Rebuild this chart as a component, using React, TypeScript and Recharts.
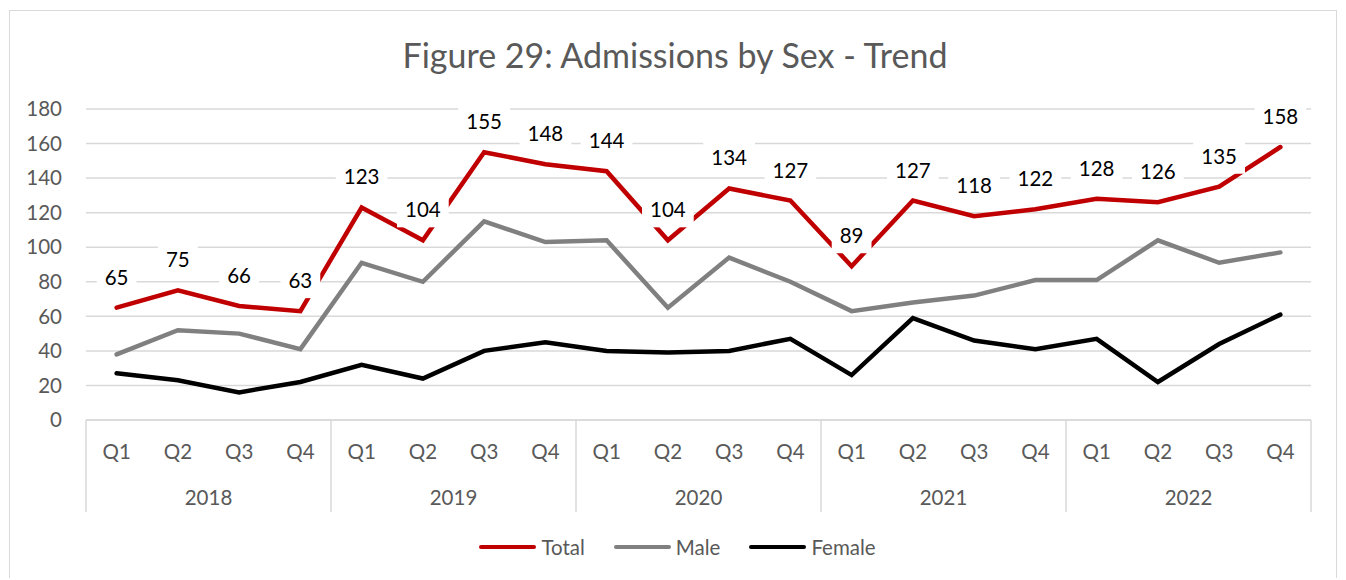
import React from "react";
import { LineChart, Line, XAxis, YAxis, CartesianGrid, LabelList } from "recharts";

const years = ["2018", "2019", "2020", "2021", "2022"];
const quarters = ["Q1", "Q2", "Q3", "Q4"];
const totalValues = [65, 75, 66, 63, 123, 104, 155, 148, 144, 104, 134, 127, 89, 127, 118, 122, 128, 126, 135, 158];
const maleValues = [38, 52, 50, 41, 91, 80, 115, 103, 104, 65, 94, 80, 63, 68, 72, 81, 81, 104, 91, 97];
const femaleValues = [27, 23, 16, 22, 32, 24, 40, 45, 40, 39, 40, 47, 26, 59, 46, 41, 47, 22, 44, 61];
const yTicks = [0, 20, 40, 60, 80, 100, 120, 140, 160, 180];

const data = totalValues.map((total, i) => ({
  period: `${years[Math.floor(i / 4)]} ${quarters[i % 4]}`,
  quarter: quarters[i % 4],
  year: years[Math.floor(i / 4)],
  total,
  male: maleValues[i],
  female: femaleValues[i],
}));

const FONT = "Lato, 'Open Sans', sans-serif";
const TEXT = "#595959";
const GRID = "#d9d9d9";
const FS = 20.5;

const CHART_W = 1330;
const CHART_H = 570;
const MARGIN = { top: 101, right: 27, left: 18, bottom: 66 };
const YAXIS_W = 60;
const PLOT_W = CHART_W - MARGIN.left - MARGIN.right - YAXIS_W;
const BAND = PLOT_W / data.length;

const series = [
  { key: "total", name: "Total", color: "#C00000" },
  { key: "male", name: "Male", color: "#808080" },
  { key: "female", name: "Female", color: "#000000" },
];

function QuarterTick(props: any) {
  const { x, y, index } = props;
  const row = data[index];
  const first = index % 4 === 0;
  const last = index === data.length - 1;
  return (
    <g>
      <text x={x} y={y + 31} textAnchor="middle" dominantBaseline="central" fill={TEXT} fontSize={FS} fontFamily={FONT}>
        {row.quarter}
      </text>
      {first && <line x1={x - BAND / 2} x2={x - BAND / 2} y1={y} y2={y + 92} stroke={GRID} strokeWidth={1.5} />}
      {last && <line x1={x + BAND / 2} x2={x + BAND / 2} y1={y} y2={y + 92} stroke={GRID} strokeWidth={1.5} />}
      {first && (
        <text x={x + BAND * 1.5} y={y + 77} textAnchor="middle" dominantBaseline="central" fill={TEXT} fontSize={FS} fontFamily={FONT}>
          {row.year}
        </text>
      )}
    </g>
  );
}

function TotalLabel(props: any) {
  const { x, y, value } = props;
  const text = String(value);
  const w = text.length * 11.9 + 16;
  const cy = y - 31;
  return (
    <g>
      <rect x={x - w / 2} y={cy - 17} width={w} height={35} fill="#ffffff" />
      <text x={x} y={cy} textAnchor="middle" dominantBaseline="central" fill="#000000" fontSize={FS} fontFamily={FONT}>
        {text}
      </text>
    </g>
  );
}

export default function App() {
  return (
    <div style={{ position: "relative", width: CHART_W, height: CHART_H, fontFamily: FONT }}>
      <div
        style={{
          position: "absolute",
          left: 1,
          top: 2,
          width: 1328,
          height: 600,
          border: `1.5px solid ${GRID}`,
          boxSizing: "border-box",
        }}
      />
      <div
        style={{
          position: "absolute",
          left: 0,
          top: 27,
          width: 1334,
          textAlign: "center",
          fontSize: 34,
          color: TEXT,
          lineHeight: "40px",
        }}
      >
        Figure 29: Admissions by Sex - Trend
      </div>
      <div style={{ position: "absolute", left: 0, top: 0 }}>
        <LineChart width={CHART_W} height={CHART_H} data={data} margin={MARGIN}>
          <CartesianGrid vertical={false} stroke={GRID} strokeWidth={1.5} />
          <XAxis
            dataKey="period"
            interval={0}
            padding={{ left: BAND / 2, right: BAND / 2 }}
            axisLine={{ stroke: GRID, strokeWidth: 1.5 }}
            tickLine={false}
            tickSize={0}
            tickMargin={0}
            height={92}
            tick={<QuarterTick />}
          />
          <YAxis
            domain={[0, 180]}
            ticks={yTicks}
            width={YAXIS_W}
            axisLine={false}
            tickLine={false}
            tickSize={0}
            tickMargin={24}
            tick={{ fill: TEXT, fontSize: FS, fontFamily: FONT }}
          />
          <Line dataKey="female" stroke="#000000" strokeWidth={4.5} dot={false} strokeLinecap="round" isAnimationActive={false} />
          <Line dataKey="male" stroke="#808080" strokeWidth={4.5} dot={false} strokeLinecap="round" isAnimationActive={false} />
          <Line dataKey="total" stroke="#C00000" strokeWidth={4.5} dot={false} strokeLinecap="round" isAnimationActive={false}>
            <LabelList dataKey="total" content={<TotalLabel />} />
          </Line>
        </LineChart>
      </div>
      <div
        style={{
          position: "absolute",
          left: 0,
          top: 527,
          width: 1339,
          display: "flex",
          justifyContent: "center",
          gap: 29,
          fontSize: FS,
          color: TEXT,
        }}
      >
        {series.map((s) => (
          <div key={s.key} style={{ display: "flex", alignItems: "center", gap: 5 }}>
            <span style={{ display: "inline-block", width: 57, height: 4.5, borderRadius: 3, background: s.color }} />
            <span>{s.name}</span>
          </div>
        ))}
      </div>
    </div>
  );
}
